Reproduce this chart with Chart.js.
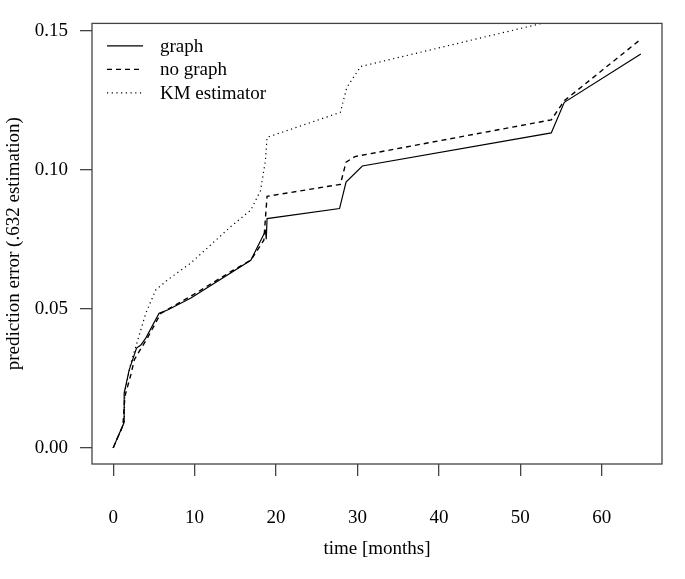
<!DOCTYPE html>
<html>
<head>
<meta charset="utf-8">
<script src="https://cdn.jsdelivr.net/npm/chart.js@4"></script>
<style>
  body { margin: 0; background: #fff; }
  #wrap { width: 685px; height: 579px; }
</style>
</head>
<body>
<div id="wrap"><canvas id="grafica" width="685" height="579"></canvas></div>
<script>
// --- DATOS ---
const tGraph = [0, 1.35, 1.35, 1.96, 2.87, 3.4, 4.0, 5.64, 6.67, 9.5, 16.9, 18.7, 18.8, 18.9, 27.8, 28.6, 30.6, 53.8, 55.4, 64.8];
const vGraph = [0, 0.0092, 0.0197, 0.028, 0.0359, 0.037, 0.0395, 0.0484, 0.0496, 0.0538, 0.0675, 0.078, 0.0751, 0.0825, 0.0861, 0.0956, 0.1014, 0.1133, 0.1243, 0.1417];

const tNoGraph = [0, 1.2, 1.43, 2.17, 2.6, 3.2, 4.2, 5.85, 9.5, 14.8, 16.9, 18.5, 18.9, 27.9, 28.6, 29.7, 53.8, 55.4, 64.8];
const vNoGraph = [0, 0.008, 0.0185, 0.0263, 0.0317, 0.0347, 0.0395, 0.0484, 0.0545, 0.064, 0.0675, 0.0747, 0.0905, 0.0948, 0.1028, 0.1048, 0.118, 0.1249, 0.147];

const tKM = [0, 1.35, 1.43, 2.17, 2.78, 4.0, 5.23, 6.67, 9.5, 14.4, 16.9, 18.1, 18.7, 18.9, 27.9, 28.7, 30.4, 52.2, 64.8];
const vKM = [0, 0.009, 0.02, 0.0305, 0.0364, 0.0484, 0.0568, 0.0604, 0.0664, 0.0795, 0.0855, 0.0926, 0.1034, 0.1117, 0.1207, 0.1297, 0.1372, 0.1524, 0.160];

const xTicks = [0, 10, 20, 30, 40, 50, 60];
const yTicks = [0, 0.05, 0.10, 0.15];
const etiquetas = ['graph', 'no graph', 'KM estimator'];

const fuente = { family: '"Liberation Serif", "DejaVu Serif", serif', size: 19 };
const gris = '#444';

function puntos(ts, vs) {
    return ts.map((t, i) => ({ x: t, y: vs[i] }));
}

// --- PLUGIN: caja y leyenda estilo R ---
const cajaR = {
    id: 'cajaR',
    afterDraw(chart) {
        const { ctx, chartArea: a } = chart;
        ctx.save();
        ctx.strokeStyle = gris;
        ctx.lineWidth = 1.3;
        ctx.strokeRect(a.left, a.top, a.right - a.left, a.bottom - a.top);

        // leyenda
        ctx.font = `${fuente.size}px ${fuente.family}`;
        ctx.textBaseline = 'middle';
        ctx.fillStyle = '#000';
        chart.data.datasets.forEach((ds, i) => {
            const y = a.top + 22.5 + i * 23.5;
            ctx.beginPath();
            ctx.strokeStyle = '#000';
            ctx.lineWidth = ds.borderWidth;
            ctx.setLineDash(ds.borderDash || []);
            ctx.moveTo(a.left + 15, y);
            ctx.lineTo(a.left + 51, y);
            ctx.stroke();
            ctx.setLineDash([]);
            ctx.fillText(ds.label, a.left + 68, y + 1);
        });
        ctx.restore();
    }
};

const soloTicks = vals => scale => {
    scale.ticks = vals.map(v => ({ value: v }));
};

new Chart(document.getElementById('grafica'), {
    type: 'line',
    data: {
        datasets: [
            { label: etiquetas[0], data: puntos(tGraph, vGraph), borderColor: '#000', borderWidth: 1.2, borderDash: [] },
            { label: etiquetas[1], data: puntos(tNoGraph, vNoGraph), borderColor: '#000', borderWidth: 1.4, borderDash: [5, 4] },
            { label: etiquetas[2], data: puntos(tKM, vKM), borderColor: '#000', borderWidth: 1.2, borderDash: [1.2, 3.5] }
        ]
    },
    options: {
        responsive: false,
        animation: false,
        layout: { padding: { top: 23, right: 23, left: 0, bottom: 0 } },
        elements: { point: { radius: 0 }, line: { tension: 0 } },
        plugins: { legend: { display: false }, tooltip: { enabled: false } },
        scales: {
            x: {
                type: 'linear',
                min: -2.6,
                max: 67.4,
                afterBuildTicks: soloTicks(xTicks),
                afterFit: s => { s.height = 115; },
                border: { display: false },
                grid: { drawOnChartArea: false, drawTicks: true, tickLength: 12, color: gris, lineWidth: 1.3 },
                ticks: { color: '#000', font: fuente, padding: 31, maxRotation: 0, callback: v => String(v) },
                title: { display: true, text: 'time [months]', color: '#000', font: fuente, padding: { bottom: 19 } }
            },
            y: {
                min: -0.0058,
                max: 0.1527,
                afterBuildTicks: soloTicks(yTicks),
                afterFit: s => { s.width = 92; },
                border: { display: false },
                grid: { drawOnChartArea: false, drawTicks: true, tickLength: 12, color: gris, lineWidth: 1.3 },
                ticks: { color: '#000', font: fuente, padding: 12, callback: v => v.toFixed(2) },
                title: { display: true, text: 'prediction error (.632 estimation)', color: '#000', font: fuente, padding: { top: 3 } }
            }
        }
    },
    plugins: [cajaR]
});
</script>
</body>
</html>
